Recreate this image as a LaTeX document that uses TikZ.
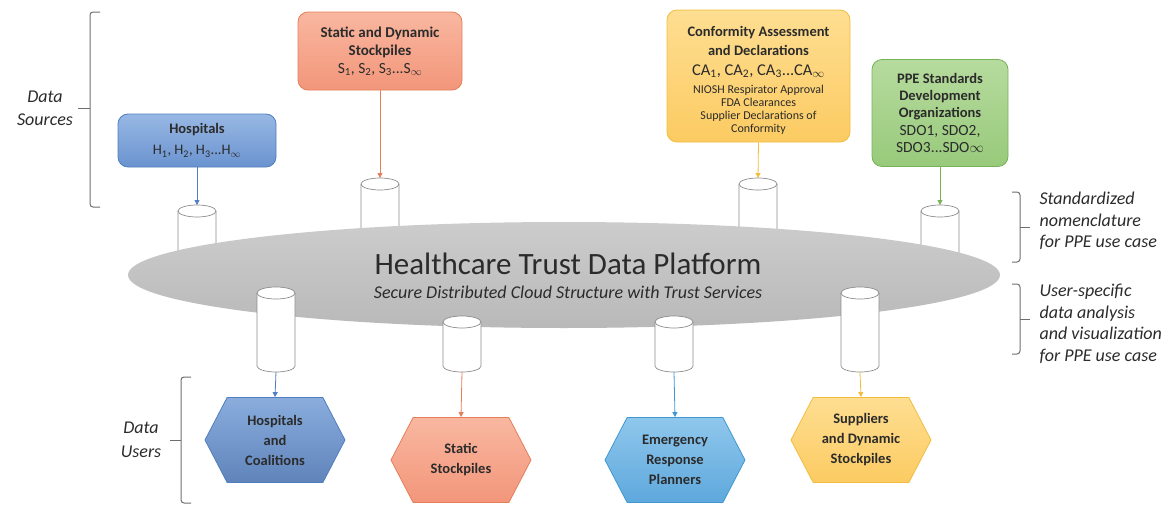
\documentclass[tikz,border=0pt]{standalone}
\usepackage{fontspec}
\setmainfont{Carlito}
\usetikzlibrary{arrows.meta,shapes.geometric,shapes.symbols}

\definecolor{txtgray}{HTML}{2B2B2B}
\definecolor{cylgray}{HTML}{8C8C8C}
\definecolor{bracegray}{HTML}{6E6E6E}
\definecolor{hospA}{HTML}{98B8E4}
\definecolor{hospB}{HTML}{6A93CF}
\definecolor{hospline}{HTML}{4F7FC0}
\definecolor{stockA}{HTML}{F9B7A0}
\definecolor{stockB}{HTML}{F2967A}
\definecolor{stockline}{HTML}{E57F5A}
\definecolor{confA}{HTML}{FEDE92}
\definecolor{confB}{HTML}{FCCB62}
\definecolor{confline}{HTML}{F2BD3E}
\definecolor{sdoA}{HTML}{B6DB9E}
\definecolor{sdoB}{HTML}{98CA7B}
\definecolor{sdoline}{HTML}{77B256}
\definecolor{emergA}{HTML}{8FC7EC}
\definecolor{emergB}{HTML}{5EA8DD}
\definecolor{emergline}{HTML}{3F98D4}
\definecolor{platA}{HTML}{CCCCCC}
\definecolor{platB}{HTML}{B9B9B9}

\tikzset{
    datacyl/.pic={
        \filldraw[fill=white, draw=cylgray, line width=0.7pt] (-19,6) -- (-19,#1-6)
            arc[start angle=180, end angle=360, x radius=19pt, y radius=6pt] -- (19,6)
            arc[start angle=0, end angle=180, x radius=19pt, y radius=6pt] -- cycle;
        \draw[cylgray, line width=0.7pt] (-19,6) arc[start angle=180, end angle=360, x radius=19pt, y radius=6pt];
        \coordinate (-top) at (0,0);
        \coordinate (-bot) at (0,#1);
    }
}

\begin{document}
\begin{tikzpicture}[x=1pt, y=-1pt, >={Triangle[length=5pt,width=5pt]},
    srcbox/.style={rectangle, rounded corners=10pt, line width=0.8pt, align=center, text=txtgray, inner sep=2pt},
    userhex/.style={signal, signal to=east and west, signal pointer angle=125, line width=0.8pt, align=center, text=txtgray, minimum width=140pt, minimum height=85pt, inner sep=0pt, font=\fontsize{14.5}{20}\selectfont\bfseries},
    feed/.style={->, line width=0.8pt},
    brace/.style={draw=bracegray, line width=1pt, rounded corners=3pt},
    sidelabel/.style={font=\fontsize{18}{21.5}\selectfont\itshape, text=txtgray}]
    \useasboundingbox (0,0) rectangle (1173,506);

    % Data stores feeding the platform
    \pic (cylH) at (197,205) {datacyl=70};
    \pic (cylS) at (380,178) {datacyl=70};
    \pic (cylC) at (758,178) {datacyl=70};
    \pic (cylP) at (940,205) {datacyl=70};

    % Platform
    \node[ellipse, minimum width=872pt, minimum height=106pt, top color=platA, bottom color=platB] (platform) at (564,275) {};
    \node[text=txtgray, font=\fontsize{31}{34}\selectfont] (title) at (568,264) {Healthcare Trust Data Platform};
    \node[text=txtgray, font=\fontsize{18}{20}\selectfont\itshape] (subtitle) at (568,292) {Secure Distributed Cloud Structure with Trust Services};

    % Data stores serving the users
    \pic (cylB1) at (276,287) {datacyl=85};
    \pic (cylB2) at (462,316) {datacyl=56};
    \pic (cylB3) at (674,316) {datacyl=56};
    \pic (cylB4) at (860,287) {datacyl=85};

    % Data sources
    \node[srcbox, draw=hospline, top color=hospA, bottom color=hospB, minimum width=158pt, minimum height=53pt, font=\fontsize{14.5}{21}\selectfont] (hosp) at (197,140.5)
        {\bfseries Hospitals\\
         H\textsubscript{1}, H\textsubscript{2}, H\textsubscript{3}...H\textsubscript{$\infty$}};
    \node[srcbox, draw=stockline, top color=stockA, bottom color=stockB, minimum width=164pt, minimum height=78pt, font=\fontsize{15}{18}\selectfont] (stock) at (380,51)
        {\bfseries Static and Dynamic\\
         \bfseries Stockpiles\\
         \fontsize{15.5}{18}\selectfont S\textsubscript{1}, S\textsubscript{2}, S\textsubscript{3}...S\textsubscript{$\infty$}};
    \node[srcbox, draw=confline, top color=confA, bottom color=confB, minimum width=183pt, minimum height=132pt, font=\fontsize{14.5}{19}\selectfont] (conf) at (758.5,76)
        {\rule{0pt}{18pt}\bfseries Conformity Assessment\\
         \bfseries and Declarations\\[1pt]
         \fontsize{16.5}{19}\selectfont CA\textsubscript{1}, CA\textsubscript{2}, CA\textsubscript{3}...CA\textsubscript{$\infty$}\\[-1pt]
         \fontsize{12}{13}\selectfont NIOSH Respirator Approval\\[-6pt]
         \fontsize{12}{13}\selectfont FDA Clearances\\[-6pt]
         \fontsize{12}{13}\selectfont Supplier Declarations of\\[-6pt]
         \fontsize{12}{13}\selectfont Conformity};
    \node[srcbox, draw=sdoline, top color=sdoA, bottom color=sdoB, minimum width=136pt, minimum height=107pt, font=\fontsize{14.5}{17}\selectfont] (sdo) at (940,113)
        {\bfseries PPE Standards\\
         \bfseries Development\\
         \bfseries Organizations\\[1pt]
         \fontsize{15.5}{17}\selectfont SDO1, SDO2,\\
         \fontsize{15.5}{17}\selectfont SDO3...SDO$\infty$};

    % Data users
    \node[userhex, draw=hospline, top color=hospA!70!hospB, bottom color=hospB!90!black] (usrHosp) at (275,440) {Hospitals\\and\\Coalitions};
    \node[userhex, draw=stockline, top color=stockA, bottom color=stockB] (usrStatic) at (461,460) {Static\\Stockpiles};
    \node[userhex, draw=emergline, top color=emergA, bottom color=emergB] (usrEmerg) at (675,460) {Emergency\\Response\\Planners};
    \node[userhex, draw=confline, top color=confA, bottom color=confB] (usrSupp) at (861,440) {Suppliers\\and Dynamic\\Stockpiles};

    % Flows
    \draw[feed, draw=hospline] (hosp.south) -- (cylH-top);
    \draw[feed, draw=stockline] (stock.south) -- (cylS-top);
    \draw[feed, draw=confline] (conf.south) -- (cylC-top);
    \draw[feed, draw=sdoline] (sdo.south) -- (cylP-top);
    \draw[feed, draw=hospline] (cylB1-bot) -- (usrHosp.north);
    \draw[feed, draw=stockline] (cylB2-bot) -- (usrStatic.north);
    \draw[feed, draw=emergline] (cylB3-bot) -- (usrEmerg.north);
    \draw[feed, draw=confline] (cylB4-bot) -- (usrSupp.north);

    % Brackets and their labels
    \draw[brace] (100,12) -- (90,12) -- (90,207) -- (100,207);
    \draw[brace] (90,108) -- (78,108);
    \node[sidelabel, align=center, font=\fontsize{18}{23}\selectfont\itshape] (srcLabel) at (45,108) {Data\\Sources};
    \draw[brace] (191,377) -- (181,377) -- (181,503) -- (191,503);
    \draw[brace] (181,440) -- (170,440);
    \node[sidelabel, align=center, font=\fontsize{18}{24}\selectfont\itshape] (usrLabel) at (141,440) {Data\\Users};
    \draw[brace] (1012,192) -- (1020,192) -- (1020,262) -- (1012,262);
    \draw[brace] (1020,227) -- (1030,227);
    \node[sidelabel, align=left, anchor=west] (stdLabel) at (1036,221) {Standardized\\nomenclature\\for PPE use case};
    \draw[brace] (1012,284) -- (1020,284) -- (1020,354) -- (1012,354);
    \draw[brace] (1020,319) -- (1030,319);
    \node[sidelabel, align=left, anchor=west] (anaLabel) at (1036,324) {User-specific\\data analysis\\and visualization\\for PPE use case};
\end{tikzpicture}
\end{document}
